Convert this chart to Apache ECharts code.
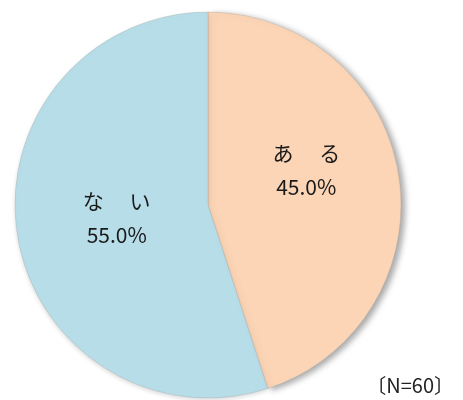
<!DOCTYPE html>
<html>
<head>
<meta charset="utf-8">
<script src="https://cdn.jsdelivr.net/npm/echarts@6/dist/echarts.min.js"></script>
<style>
  html, body { margin: 0; padding: 0; background: #fff; }
  #main { width: 463px; height: 400px; }
</style>
</head>
<body>
<div id="main"></div>
<script>
// data
var names = ['あ　 る', 'な　 い'];
var values = [45.0, 55.0];
var colors = ['#FBD5B6', '#B7DDE8'];
var note = '〔N=60〕';

var chartDom = document.getElementById('main');
var myChart = echarts.init(chartDom, null, { renderer: 'canvas' });

// only the right-hand slice casts the visible shadow
var shadows = [
  { shadowBlur: 6, shadowOffsetX: 4, shadowOffsetY: 2, shadowColor: 'rgba(0,0,0,0.35)' },
  { shadowBlur: 4, shadowOffsetX: 0, shadowOffsetY: 2, shadowColor: 'rgba(0,0,0,0.15)' }
];

var pieData = names.map(function (n, i) {
  return {
    name: n,
    value: values[i],
    itemStyle: Object.assign({ color: colors[i] }, shadows[i])
  };
});

// nudges for the inside labels (px)
var labelShift = [[0, -19], [7, -3]];

var option = {
  animation: false,
  title: {
    text: note,
    right: 4,
    bottom: 0,
    textStyle: {
      fontFamily: 'Noto Sans CJK JP',
      fontSize: 20,
      fontWeight: 'normal',
      color: '#222'
    }
  },
  series: [
    {
      type: 'pie',
      center: [208, 205],
      radius: 193,
      startAngle: 90,
      clockwise: true,
      avoidLabelOverlap: false,
      itemStyle: {
        borderWidth: 0.6,
        borderColor: 'rgba(160,160,160,0.5)'
      },
      label: {
        show: true,
        position: 'inside',
        fontFamily: 'Noto Sans CJK JP',
        fontSize: 21,
        lineHeight: 34,
        color: '#1a1a1a',
        formatter: function (p) {
          return p.name + '\n' + p.value.toFixed(1) + '%';
        }
      },
      labelLayout: function (params) {
        var s = labelShift[params.dataIndex];
        return { dx: s[0], dy: s[1] };
      },
      emphasis: { disabled: true },
      data: pieData
    }
  ]
};

option && myChart.setOption(option);
</script>
</body>
</html>
